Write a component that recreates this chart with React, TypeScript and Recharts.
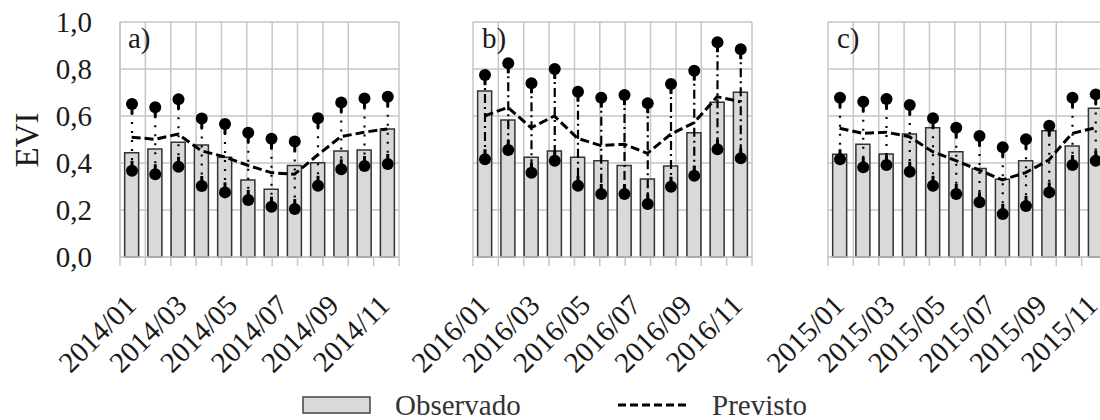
import React from "react";
import { ComposedChart, Bar, Line, XAxis, YAxis, CartesianGrid } from "recharts";

// months of each panel
const months = ["01", "02", "03", "04", "05", "06", "07", "08", "09", "10", "11", "12"];
const yTicks = [0, 0.2, 0.4, 0.6, 0.8, 1];

// a) 2014
const obsA = [0.444, 0.46, 0.488, 0.477, 0.425, 0.328, 0.288, 0.389, 0.401, 0.451, 0.455, 0.545];
const prevA = [0.51, 0.501, 0.523, 0.452, 0.426, 0.39, 0.359, 0.352, 0.434, 0.512, 0.531, 0.545];
const hiA = [0.651, 0.637, 0.671, 0.589, 0.566, 0.529, 0.503, 0.491, 0.59, 0.657, 0.675, 0.682];
const loA = [0.367, 0.352, 0.384, 0.302, 0.275, 0.243, 0.214, 0.204, 0.303, 0.373, 0.387, 0.396];

// b) 2016
const obsB = [0.706, 0.583, 0.424, 0.451, 0.424, 0.41, 0.389, 0.332, 0.387, 0.529, 0.658, 0.701];
const prevB = [0.6, 0.637, 0.55, 0.6, 0.505, 0.474, 0.48, 0.441, 0.522, 0.571, 0.682, 0.661];
const hiB = [0.774, 0.824, 0.739, 0.8, 0.703, 0.678, 0.689, 0.654, 0.736, 0.793, 0.914, 0.884];
const loB = [0.416, 0.455, 0.359, 0.41, 0.303, 0.268, 0.268, 0.226, 0.299, 0.346, 0.458, 0.42];

// c) 2015
const obsC = [0.437, 0.48, 0.438, 0.523, 0.55, 0.448, 0.377, 0.331, 0.41, 0.537, 0.472, 0.633];
const prevC = [0.548, 0.526, 0.531, 0.512, 0.448, 0.41, 0.37, 0.328, 0.359, 0.413, 0.526, 0.55];
const hiC = [0.678, 0.661, 0.672, 0.647, 0.59, 0.55, 0.515, 0.467, 0.501, 0.559, 0.678, 0.692];
const loC = [0.416, 0.382, 0.391, 0.363, 0.303, 0.268, 0.233, 0.183, 0.217, 0.275, 0.391, 0.41];

const FONT = "'Liberation Serif', 'Times New Roman', serif";
const GRID = "#c6c6c6";
const INK = "#1a1a1a";

const gridTicks = months.map((_, i) => i).concat(months.length);
const labelTicks = months.flatMap((_, i) => [i, i + 0.5]).concat(months.length);

const buildRows = (year: string, obs: number[], prev: number[], lo: number[], hi: number[]) =>
  months.map((mm, i) => ({
    m: `${year}/${mm}`,
    obs: obs[i],
    prev: prev[i],
    range: [lo[i], hi[i]],
  }));

// error bar: dashed stem between two black dots, with a short solid neck at each dot
const errorMark = (dash: string) => (props: any) => {
  const { x, y, width, height } = props;
  if (x == null || y == null) return <g />;
  const cx = x + width / 2;
  const top = Math.min(y, y + height);
  const bot = Math.max(y, y + height);
  return (
    <g>
      <line x1={cx} x2={cx} y1={top} y2={bot} stroke="#000" strokeWidth={2.2} strokeDasharray={dash} />
      <line x1={cx} x2={cx} y1={top} y2={top + 10} stroke="#000" strokeWidth={3} />
      <line x1={cx} x2={cx} y1={bot - 10} y2={bot} stroke="#000" strokeWidth={3} />
      <circle cx={cx} cy={top} r={6} fill="#000" />
      <circle cx={cx} cy={bot} r={6} fill="#000" />
    </g>
  );
};

const monthTick = (year: string) => (props: any) => {
  const { x, y, payload } = props;
  const v = payload.value as number;
  if (Number.isInteger(v)) {
    return <line x1={x} x2={x} y1={y} y2={y + 9} stroke={GRID} strokeWidth={1.5} />;
  }
  const i = Math.floor(v);
  if (i % 2 !== 0) return <g />;
  const tx = x + 5;
  const ty = y + 50;
  return (
    <text
      x={tx}
      y={ty}
      transform={`rotate(-45, ${tx}, ${ty})`}
      textAnchor="end"
      fontFamily={FONT}
      fontSize={29}
      fill={INK}
    >
      {`${year}/${months[i]}`}
    </text>
  );
};

interface PanelProps {
  year: string;
  obs: number[];
  prev: number[];
  lo: number[];
  hi: number[];
  dash: string;
  showY?: boolean;
  width: number;
  left: number;
}

function Panel({ year, obs, prev, lo, hi, dash, showY = false, width, left }: PanelProps) {
  const rows = buildRows(year, obs, prev, lo, hi);
  return (
    <div style={{ position: "absolute", left, top: 0 }}>
      <ComposedChart
        width={width}
        height={380}
        data={rows}
        barCategoryGap="20%"
        margin={{ top: 22, right: 1, bottom: 0, left: showY ? 0 : 120 }}
      >
        <XAxis
          xAxisId="lab"
          type="number"
          domain={[0, 12]}
          ticks={labelTicks}
          interval={0}
          allowDataOverflow
          height={123}
          tickSize={0}
          tickMargin={0}
          tickLine={false}
          axisLine={{ stroke: GRID, strokeWidth: 1.5 }}
          tick={monthTick(year)}
        />
        <XAxis xAxisId="cat" dataKey="m" hide height={0} />
        <XAxis xAxisId="err" dataKey="m" hide height={0} />
        <XAxis
          xAxisId="g"
          type="number"
          domain={[0, 12]}
          ticks={gridTicks}
          allowDataOverflow
          hide
          height={0}
        />
        <YAxis
          domain={[0, 1]}
          ticks={yTicks}
          interval={0}
          hide={!showY}
          width={120}
          tickSize={0}
          tickMargin={28}
          tickLine={false}
          axisLine={{ stroke: GRID, strokeWidth: 1.5 }}
          tick={{ fontFamily: FONT, fontSize: 29, fill: INK }}
          tickFormatter={(v: number) => v.toFixed(1).replace(".", ",")}
        />
        <CartesianGrid xAxisId="g" stroke={GRID} strokeWidth={1.5} />
        <Bar
          xAxisId="cat"
          dataKey="obs"
          fill="#d9d9d9"
          stroke="#333"
          strokeWidth={1.5}
          isAnimationActive={false}
        />
        <Line
          xAxisId="cat"
          dataKey="prev"
          type="linear"
          stroke="#000"
          strokeWidth={3}
          strokeDasharray="9 4"
          dot={false}
          isAnimationActive={false}
        />
        <Bar
          xAxisId="err"
          dataKey="range"
          barSize={10}
          fill="none"
          shape={errorMark(dash)}
          isAnimationActive={false}
        />
      </ComposedChart>
    </div>
  );
}

export default function App() {
  return (
    <div
      style={{
        position: "absolute",
        left: 0,
        top: 0,
        width: 1100,
        height: 420,
        overflow: "hidden",
        background: "#fff",
      }}
    >
      <Panel year="2014" obs={obsA} prev={prevA} lo={loA} hi={hiA} dash="2 7" showY width={400} left={0} />
      <Panel year="2016" obs={obsB} prev={prevB} lo={loB} hi={hiB} dash="9 4 2 4" width={400} left={353} />
      <Panel year="2015" obs={obsC} prev={prevC} lo={loC} hi={hiC} dash="2 7" width={400} left={708} />
      <svg
        width={1100}
        height={420}
        style={{ position: "absolute", left: 0, top: 0, pointerEvents: "none" }}
        fontFamily={FONT}
      >
        <text x={38} y={140} transform="rotate(-90, 38, 140)" textAnchor="middle" fontSize={33} fill={INK}>
          EVI
        </text>
        <text x={128} y={48} fontSize={29} fill={INK}>a)</text>
        <text x={482} y={48} fontSize={29} fill={INK}>b)</text>
        <text x={837} y={48} fontSize={29} fill={INK}>c)</text>
        <rect x={303} y={397} width={67} height={16} fill="#d9d9d9" stroke="#444" strokeWidth={1.5} />
        <text x={395} y={415} fontSize={29} fill="#333">Observado</text>
        <line x1={618} x2={687} y1={405} y2={405} stroke="#000" strokeWidth={3} strokeDasharray="8 4" />
        <text x={712} y={415} fontSize={29} fill="#333">Previsto</text>
      </svg>
    </div>
  );
}
